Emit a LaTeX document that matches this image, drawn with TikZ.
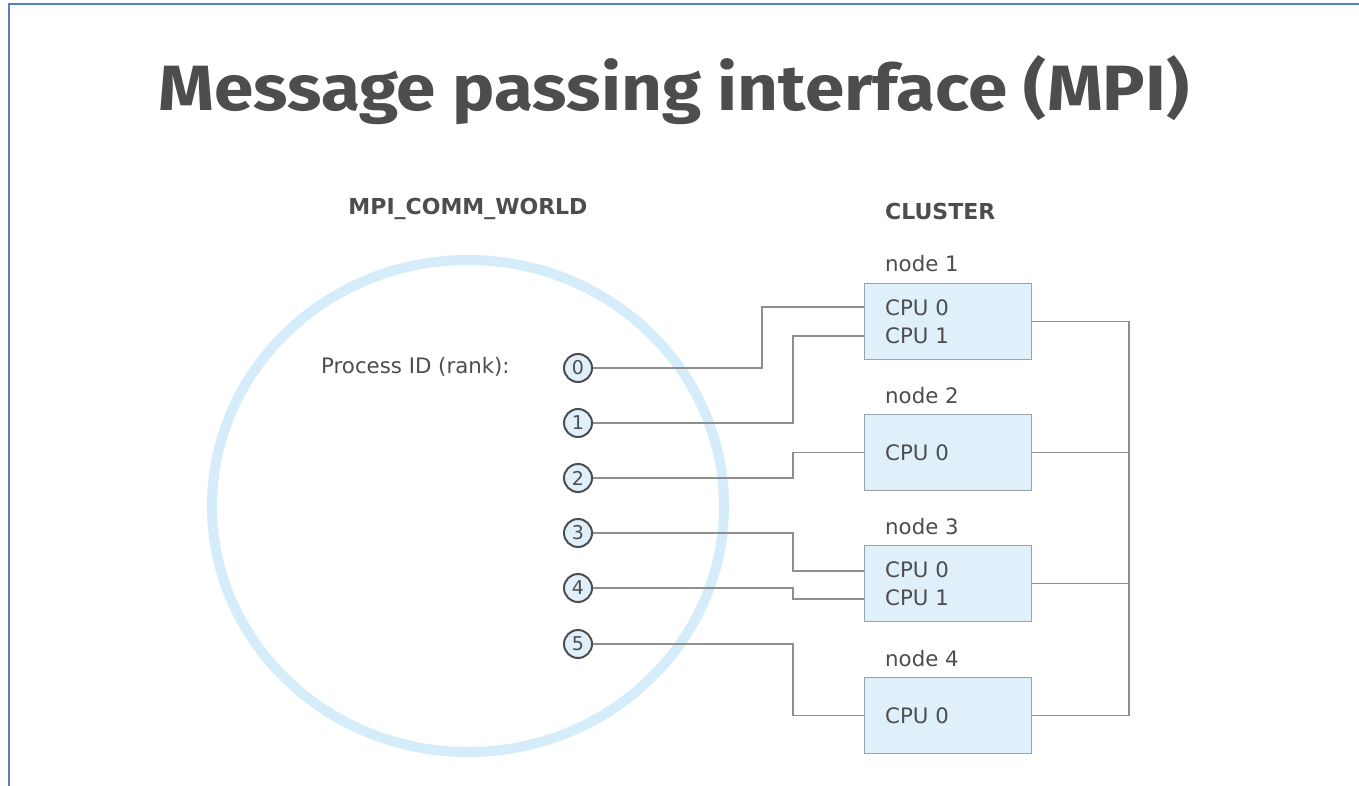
\documentclass[tikz,border=0pt]{standalone}
\usepackage{fontspec}
\setmainfont{DejaVu Sans}
\newfontfamily\titlefont{Fira Sans}
\definecolor{ink}{HTML}{4D4D4F}
\definecolor{wire}{HTML}{8F8F8F}
\definecolor{ring}{HTML}{D5ECFA}
\definecolor{cellfill}{HTML}{DFF0FB}
\definecolor{cellline}{HTML}{9AA3A9}
\definecolor{frameblue}{HTML}{4F81C4}
\tikzset{
  txt/.style={text=ink, inner sep=0pt, font=\fontsize{21.3}{24}\selectfont},
  heading/.style={txt, font=\fontsize{22}{24}\selectfont\bfseries},
  rank/.style={circle, draw=ink, line width=2pt, fill=cellfill, minimum size=28pt,
    inner sep=0pt, text=ink, font=\fontsize{19}{20}\selectfont},
  hostbox/.style={draw=cellline, line width=1.4pt, fill=cellfill, minimum width=167pt,
    minimum height=76pt, inner sep=0pt},
  wiring/.style={draw=wire, line width=1.3pt},
}
\begin{document}
\begin{tikzpicture}[x=1pt, y=-1pt]
\useasboundingbox (0,0) rectangle (1359,786);
\fill[white] (0,0) rectangle (1359,786);
% page frame
\draw[frameblue, line width=2pt] (9,786) -- (9,4) -- (1359,4);

% title
\node[txt, anchor=base, font=\titlefont\fontsize{64}{70}\selectfont\bfseries] (title) at (674,111)
  {\scalebox{1.11}[1]{Message passing interface (MPI)}};

% communicator
\node[heading, anchor=base] (world) at (468,215) {MPI\_COMM\_WORLD};
\draw[ring, line width=10pt] (468,506) ellipse [x radius=256pt, y radius=246pt];
\node[txt, anchor=base west] (pid) at (321,373) {Process ID (rank):};

\foreach \r/\y in {0/368,1/423,2/478,3/533,4/588,5/644}
  \node[rank] (r\r) at (578,\y) {\r};

% cluster
\node[heading, anchor=base west] (cluster) at (885,220) {CLUSTER};
\node[hostbox, anchor=north west] (n1) at (864,283) {};
\node[hostbox, anchor=north west] (n2) at (864,414) {};
\node[hostbox, anchor=north west] (n3) at (864,545) {};
\node[hostbox, anchor=north west] (n4) at (864,677) {};

\node[txt, anchor=base west] (l1) at (885,271) {node 1};
\node[txt, anchor=base west] (l2) at (885,403) {node 2};
\node[txt, anchor=base west] (l3) at (885,534) {node 3};
\node[txt, anchor=base west] (l4) at (885,666) {node 4};

\node[txt, anchor=base west] (c10) at (885,315) {CPU 0};
\node[txt, anchor=base west] (c11) at (885,343) {CPU 1};
\node[txt, anchor=base west] (c20) at (885,460) {CPU 0};
\node[txt, anchor=base west] (c30) at (885,577) {CPU 0};
\node[txt, anchor=base west] (c31) at (885,605) {CPU 1};
\node[txt, anchor=base west] (c40) at (885,723) {CPU 0};

% ports where ranks enter the hosts
\coordinate (p0) at (n1.west |- 0,307);
\coordinate (p1) at (n1.west |- 0,336);
\coordinate (p2) at (n2.west);
\coordinate (p3) at (n3.west |- 0,571);
\coordinate (p4) at (n3.west |- 0,599);
\coordinate (p5) at (n4.west);

\draw[wiring] (r0.east) -- (762,368) |- (p0);
\draw[wiring] (r1.east) -- (793,423) |- (p1);
\draw[wiring] (r2.east) -- (793,478) |- (p2);
\draw[wiring] (r3.east) -- (793,533) |- (p3);
\draw[wiring] (r4.east) -- (793,588) |- (p4);
\draw[wiring] (r5.east) -- (793,644) |- (p5);

% interconnect bus
\coordinate (bus) at (1129,0);
\draw[wiring] (n1.east) -- (bus |- n1.east) -- (bus |- n4.east) -- (n4.east);
\draw[wiring] (n2.east) -- (bus |- n2.east);
\draw[wiring] (n3.east) -- (bus |- n3.east);
\end{tikzpicture}
\end{document}
